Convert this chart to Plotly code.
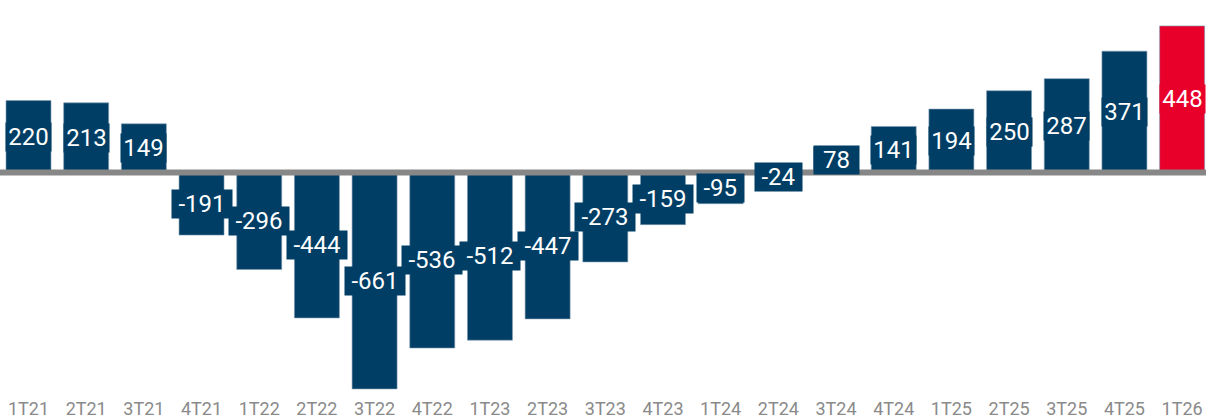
import plotly.graph_objects as go

categories = ["1T21", "2T21", "3T21", "4T21", "1T22", "2T22", "3T22", "4T22", "1T23", "2T23",
              "3T23", "4T23", "1T24", "2T24", "3T24", "4T24", "1T25", "2T25", "3T25", "4T25", "1T26"]
values = [220, 213, 149, -191, -296, -444, -661, -536, -512, -447,
          -273, -159, -95, -24, 78, 141, 194, 250, 287, 371, 448]

NAVY = "#003e65"
RED = "#e8002b"
colors = [NAVY] * (len(values) - 1) + [RED]
idx = list(range(len(categories)))

fig = go.Figure()
fig.add_trace(go.Bar(
    x=idx, y=values, width=0.78,
    marker=dict(color=colors, line=dict(color="#7f9bb2", width=0.6)),
    hoverinfo="skip",
))

annotations = []
for i, v in enumerate(values):
    t = str(v)
    if v < 0:
        w = 8 * t.count("-") + 13.3 * sum(c.isdigit() for c in t) + 8
        w = max(w, 41)
    else:
        w = 41
    annotations.append(dict(
        x=i, y=v / 2, xref="x", yref="y", text=t, showarrow=False,
        font=dict(family="Roboto", size=24, color="white"),
        bgcolor=colors[i], borderpad=2, width=w, height=24,
        xanchor="center", yanchor="middle",
    ))

fig.update_layout(
    width=1206, height=418,
    margin=dict(l=0, r=0, t=0, b=22),
    paper_bgcolor="white", plot_bgcolor="white",
    showlegend=False,
    annotations=annotations,
    shapes=[dict(type="line", xref="paper", yref="y", x0=0, x1=1, y0=0, y1=0,
                 line=dict(color="#878787", width=6), layer="above")],
    xaxis=dict(range=[-0.494, 20.414], tickvals=idx, ticktext=categories,
               showgrid=False, zeroline=False, showline=False, ticks="",
               tickfont=dict(family="Roboto", size=18, color="#8a8a8a")),
    yaxis=dict(range=[-682.6, 527.3], showgrid=False, zeroline=False,
               showline=False, showticklabels=False),
)

fig.write_html("out.html")
